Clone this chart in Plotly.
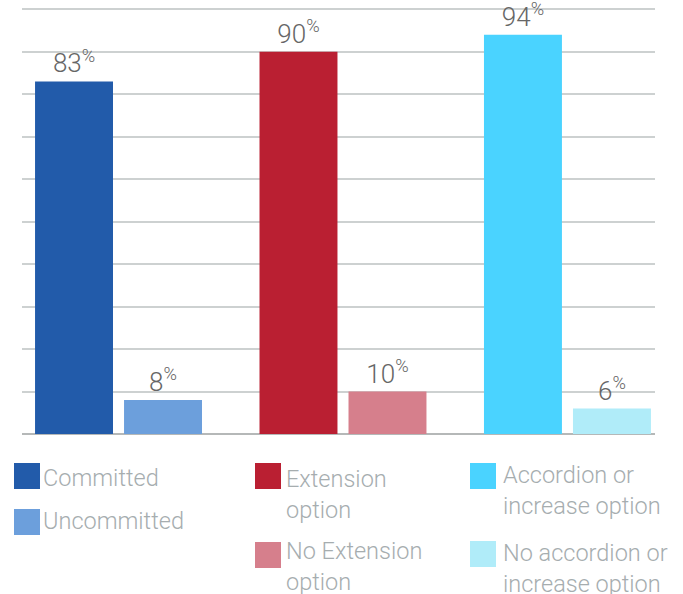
import plotly.graph_objects as go

# ---- data ----
group_positions = [0, 1, 2]
primary_names = ["Committed", "Extension option", "Accordion or increase option"]
secondary_names = ["Uncommitted", "No Extension option", "No accordion or increase option"]
primary_values = [83, 90, 94]
secondary_values = [8, 10, 6]
primary_colors = ["#225BAA", "#BA1F32", "#4AD3FF"]
secondary_colors = ["#6C9FDC", "#D67F8C", "#B0ECF9"]
legend_labels = [
    ["Committed", "Uncommitted"],
    ["Extension<br>option", "No Extension<br>option"],
    ["Accordion or<br>increase option", "No accordion or<br>increase option"],
]
legend_colors = [
    [primary_colors[0], secondary_colors[0]],
    [primary_colors[1], secondary_colors[1]],
    [primary_colors[2], secondary_colors[2]],
]
y_ticks = list(range(0, 101, 10))

W, H = 683, 594
ML, MR, MT, MB = 22, 28, 8, 160
PW, PH = W - ML - MR, H - MT - MB

FONT = "Roboto"


def px_x(px):
    return (px - ML) / PW


def px_y(py):
    return (H - MB - py) / PH


fig = go.Figure()
for vals, cols, nm in [(primary_values, primary_colors, "primary"),
                       (secondary_values, secondary_colors, "secondary")]:
    fig.add_trace(go.Bar(
        x=group_positions, y=vals, name=nm,
        marker=dict(color=cols, line=dict(width=0)),
        texttemplate="%{y}<sup>%</sup>", textposition="outside",
        textfont=dict(family=FONT, size=26, color="#666666", weight=300),
        cliponaxis=False, showlegend=False, hoverinfo="skip",
    ))

# custom legend (swatches + text)
sw_x = [14, 255, 470]
sw_y = [[463, 509], [463, 542], [463, 541]]
txt_x = [41, 284, 501]
txt_y = [[478, 521], [494, 566], [490, 568]]
shapes = []
annotations = []
for gi in range(3):
    for k in range(2):
        x0 = sw_x[gi]
        y0 = sw_y[gi][k]
        shapes.append(dict(
            type="rect", xref="paper", yref="paper",
            x0=px_x(x0), x1=px_x(x0 + 26), y0=px_y(y0 + 26), y1=px_y(y0),
            fillcolor=legend_colors[gi][k], line=dict(width=0),
        ))
        annotations.append(dict(
            xref="paper", yref="paper", x=px_x(txt_x[gi]), y=px_y(txt_y[gi][k]),
            xanchor="left", yanchor="middle", align="left", showarrow=False,
            text=legend_labels[gi][k],
            font=dict(family=FONT, size=23.5, color="#A6ADAF", weight=300),
        ))

fig.update_layout(
    width=W, height=H,
    margin=dict(l=ML, r=MR, t=MT, b=MB, pad=0),
    paper_bgcolor="white", plot_bgcolor="white",
    barmode="group", bargap=0.207, bargroupgap=0.124,
    shapes=shapes, annotations=annotations,
    xaxis=dict(range=[-0.43, 2.39], showticklabels=False, showgrid=False,
               zeroline=False, showline=False, ticks=""),
    yaxis=dict(range=[0, 100.3], tickvals=y_ticks, showticklabels=False,
               showgrid=True, gridcolor="#CDD1D1", gridwidth=1.5,
               zeroline=True, zerolinecolor="#B5B8B8", zerolinewidth=2,
               showline=False, ticks=""),
    showlegend=False,
)

fig.write_html("out.html")
